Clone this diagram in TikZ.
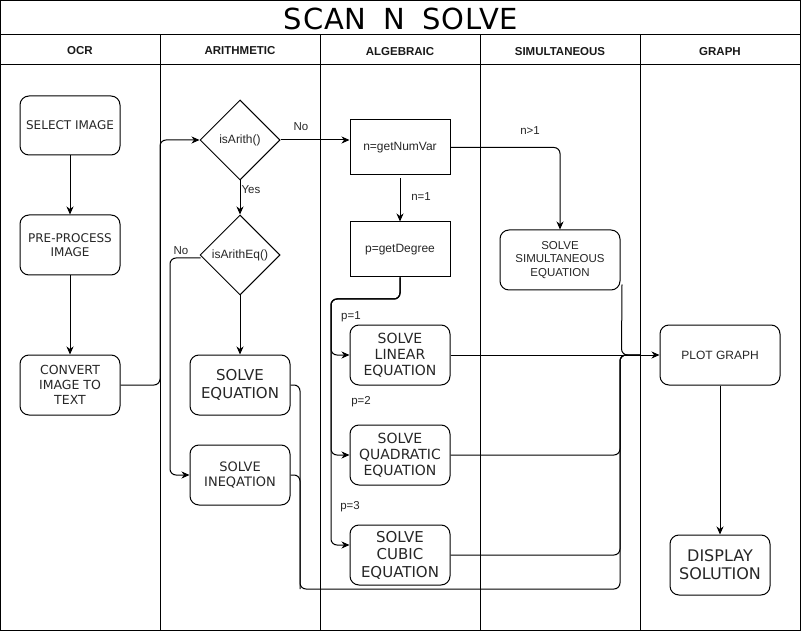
\documentclass[tikz,border=0pt]{standalone}
\usepackage{fontspec}
\setmainfont{Liberation Sans}
\newfontfamily\dv{DejaVu Sans}
\newfontfamily\dvtitle[LetterSpace=3]{DejaVu Sans}
\usetikzlibrary{shapes.geometric,arrows.meta,calc}
\newcommand{\fsz}[2]{\fontsize{#1}{#2}\selectfont}
\tikzset{
  rbox/.style={draw, rounded corners=9pt, minimum width=100pt, minimum height=60pt, align=center, text=black!85, inner sep=2pt, line width=1pt},
  sqbox/.style={draw, minimum width=100pt, minimum height=55pt, align=center, text=black!85, font=\fsz{12}{14}, line width=1pt},
  dia/.style={draw, diamond, minimum width=80pt, minimum height=80pt, inner sep=0pt, text=black!85, font=\fsz{12}{14}, line width=1pt},
  arr/.style={-{Stealth[length=8pt,width=7pt,inset=2.5pt]}, line width=1pt},
  conn/.style={line width=1pt},
  rc/.style={rounded corners=6pt},
  lbl/.style={text=black!85, font=\fsz{11.5}{13}, inner sep=0pt},
  hdr/.style={font=\bfseries\fsz{11.5}{13}, text=black!90},
}
\begin{document}
\begin{tikzpicture}[x=1pt,y=-1pt]
\useasboundingbox (0,0) rectangle (801,631);
% frame and lanes
\draw[line width=1pt] (0.5,0.5) rectangle (800.5,630.5);
\draw[line width=1pt] (0.5,35) -- (800.5,35);
\draw[line width=1pt] (0.5,65) -- (800.5,65);
\foreach \xx in {160,320,480,640} \draw[line width=1pt] (\xx,35) -- (\xx,630.5);
\node[font=\dvtitle\fsz{29}{31}, text=black] (title) at (401,18.5) {SCAN\hspace{17pt}N\hspace{17pt}SOLVE};
\node[hdr] (h1) at (80,51) {OCR};
\node[hdr] (h2) at (240,51) {ARITHMETIC};
\node[hdr] (h3) at (400,52) {ALGEBRAIC};
\node[hdr] (h4) at (560,52) {SIMULTANEOUS};
\node[hdr] (h5) at (720,52) {GRAPH};
% nodes
\node[rbox, font=\dv\fsz{12}{14.5}, minimum height=59pt] (sel) at (70,125.5) {SELECT IMAGE};
\node[rbox, font=\dv\fsz{12}{14.5}] (pre) at (70,245) {PRE-PROCESS\\IMAGE};
\node[rbox, font=\dv\fsz{12.5}{15}] (conv) at (70,385) {CONVERT\\IMAGE TO\\TEXT};
\node[dia] (isa) at (240,140) {isArith()};
\node[dia] (isq) at (240,255) {isArithEq()};
\node[rbox, font=\dv\fsz{15}{18}] (seq) at (240,385) {SOLVE\\EQUATION};
\node[rbox, font=\dv\fsz{13}{15.5}] (sin) at (240,475) {SOLVE\\INEQATION};
\node[sqbox] (nv) at (400,147.5) {n=getNumVar};
\node[sqbox] (pd) at (400,249.5) {p=getDegree};
\node[rbox, font=\dv\fsz{14}{15.8}] (lin) at (400,355) {SOLVE\\LINEAR\\EQUATION};
\node[rbox, font=\dv\fsz{14}{15.8}] (quad) at (400,455) {SOLVE\\QUADRATIC\\EQUATION};
\node[rbox, font=\dv\fsz{15}{17.5}] (cub) at (400,555) {SOLVE\\CUBIC\\EQUATION};
\node[rbox, font=\fsz{11.5}{13.7}, minimum width=120pt] (sim) at (560,260) {SOLVE\\SIMULTANEOUS\\EQUATION};
\node[rbox, font=\fsz{12}{14}, minimum width=120pt] (plot) at (720,355) {PLOT GRAPH};
\node[rbox, font=\dv\fsz{16}{18.3}] (disp) at (720,565) {DISPLAY\\SOLUTION};
% connectors
\draw[arr] (sel) -- (pre);
\draw[arr] (pre) -- (conv);
\draw[arr, rc] (conv.east) -- (160,385) -- (160,140) -- (isa.west);
\draw[arr] (isa.east) -- (nv.west |- isa.east);
\draw[arr] (isa.south) -- (isq.north);
\draw[arr] (isq.south) -- (seq.north);
\draw[arr, rc] ($(isq.west)+(1,3)$) -- (170,258) -- (170,475) -- (sin.west);
\draw[arr] ($(nv.south)+(0,3)$) -- (pd.north);
\draw[arr, rc] (nv.east) -- (560,147.5) -- (sim.north);
\draw[arr, rc] (pd.south) -- (400,299) -- (331,299) -- (331,355) -- (lin.west);
\draw[arr, rc] (pd.south) -- (400,299) -- (331,299) -- (331,455) -- (quad.west);
\draw[arr, rc] (pd.south) -- (400,299) -- (331,299) -- (331,545) -- (cub.west |- 0,545);
\draw[arr] (lin.east) -- (plot.west);
\draw[conn, rc] ($(sim.south east)+(1.5,-6)$) -- (621.5,355) -- (640,355);
\draw[conn, rc] (quad.east) -- (620,455) -- (620,355) -- (640,355);
\draw[conn, rc] (cub.east) -- (620,555) -- (620,355) -- (640,355);
\draw[conn, rc] (seq.east) -- (300,385) -- (300,589) -- (620,589) -- (620,355) -- (640,355);
\draw[conn, rc] (sin.east) -- (300,475) -- (300,589);
\draw[arr] (plot) -- (disp);
% labels
\node[lbl] (lno1) at (301,127) {No};
\node[lbl] (lyes) at (251,190) {Yes};
\node[lbl] (lno2) at (181,251) {No};
\node[lbl] (ln1) at (421,197) {n=1};
\node[lbl] (lnm) at (530,131) {n>1};
\node[lbl] (lp1) at (351,317) {p=1};
\node[lbl] (lp2) at (361,402) {p=2};
\node[lbl] (lp3) at (350,507) {p=3};
\end{tikzpicture}
\end{document}
